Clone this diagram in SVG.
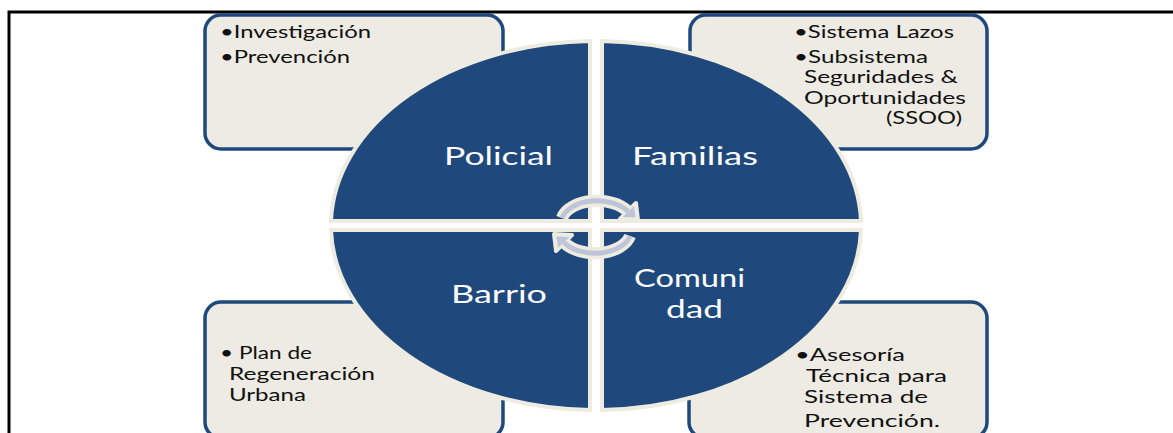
<svg xmlns="http://www.w3.org/2000/svg" width="1173" height="433" viewBox="0 0 1173 433">
<style>
.box{fill:#EDEBE3;stroke:#1F497D;stroke-width:3.5}
.q{fill:#1F497D;stroke:#EEECE1;stroke-width:4}
.bt{font-family:Lato,"Open Sans",sans-serif;font-size:17px;fill:#111}
.qt{font-family:Lato,"Open Sans",sans-serif;font-size:25px;fill:#fff}
</style>
<defs>
<g id="carr">
<path d="M562 218 A36 22 0 0 1 628 211.5" fill="none" stroke="#EEECE1" stroke-width="12"/>
<polygon points="620,219 636,203 638,220" fill="#EEECE1" stroke="#EEECE1" stroke-width="4" stroke-linejoin="round"/>
<path d="M562 218 A36 22 0 0 1 628 211.5" fill="none" stroke="#BFC5D8" stroke-width="5"/>
<polygon points="622.5,217 634,206 635.5,217.5" fill="#BFC5D8"/>
</g>
</defs>
<rect width="1173" height="433" fill="#fff"/>
<path d="M9 433 V12 H1173" fill="none" stroke="#000" stroke-width="3"/>
<g id="box-policial">
<rect class="box" x="205" y="15" width="298" height="134" rx="16"/>
<text class="bt" x="220" y="38" textLength="151" lengthAdjust="spacingAndGlyphs">•Investigación</text>
<text class="bt" x="220" y="62.5" textLength="130" lengthAdjust="spacingAndGlyphs">•Prevención</text>
</g>
<g id="box-familias">
<rect class="box" x="690" y="15" width="297" height="134" rx="16"/>
<text class="bt" x="794" y="38" textLength="160" lengthAdjust="spacingAndGlyphs">•Sistema Lazos</text>
<text class="bt" x="794" y="62.5" textLength="134" lengthAdjust="spacingAndGlyphs">•Subsistema</text>
<text class="bt" x="804" y="83" textLength="154" lengthAdjust="spacingAndGlyphs">Seguridades &amp;</text>
<text class="bt" x="804" y="103.5" textLength="162" lengthAdjust="spacingAndGlyphs">Oportunidades</text>
<text class="bt" x="886" y="124" textLength="76" lengthAdjust="spacingAndGlyphs">(SSOO)</text>
</g>
<g id="box-barrio">
<rect class="box" x="205" y="302" width="298" height="136" rx="16"/>
<text class="bt" x="220" y="359" textLength="92" lengthAdjust="spacingAndGlyphs">• Plan de</text>
<text class="bt" x="229" y="380" textLength="146" lengthAdjust="spacingAndGlyphs">Regeneración</text>
<text class="bt" x="229" y="401" textLength="77" lengthAdjust="spacingAndGlyphs">Urbana</text>
</g>
<g id="box-comunidad">
<rect class="box" x="689" y="302" width="298" height="136" rx="16"/>
<text class="bt" x="795" y="361" textLength="110" lengthAdjust="spacingAndGlyphs">•Asesoría</text>
<text class="bt" x="806" y="382" textLength="141" lengthAdjust="spacingAndGlyphs">Técnica para</text>
<text class="bt" x="804" y="403" textLength="124" lengthAdjust="spacingAndGlyphs">Sistema de</text>
<text class="bt" x="804" y="427" textLength="136" lengthAdjust="spacingAndGlyphs">Prevención.</text>
</g>
<g id="q-policial">
<path class="q" d="M590 221 L331 221 A265 185 0 0 1 590 41 Z"/>
<text class="qt" x="444" y="165" textLength="109" lengthAdjust="spacingAndGlyphs">Policial</text>
</g>
<g id="q-familias">
<path class="q" d="M602 221 L602 41 A265 185 0 0 1 861 221 Z"/>
<text class="qt" x="632" y="165" textLength="126" lengthAdjust="spacingAndGlyphs">Familias</text>
</g>
<g id="q-barrio">
<path class="q" d="M590 230 L590 410 A265 185 0 0 1 331 230 Z"/>
<text class="qt" x="451" y="303" textLength="96" lengthAdjust="spacingAndGlyphs">Barrio</text>
</g>
<g id="q-comunidad">
<path class="q" d="M602 230 L861 230 A265 185 0 0 1 602 410 Z"/>
<text class="qt" x="634" y="287" textLength="111" lengthAdjust="spacingAndGlyphs">Comuni</text>
<text class="qt" x="666" y="318" textLength="57" lengthAdjust="spacingAndGlyphs">dad</text>
</g>
<g id="connectors">
<use href="#carr"/>
<use href="#carr" transform="rotate(180 596 227)"/>
</g>
</svg>
